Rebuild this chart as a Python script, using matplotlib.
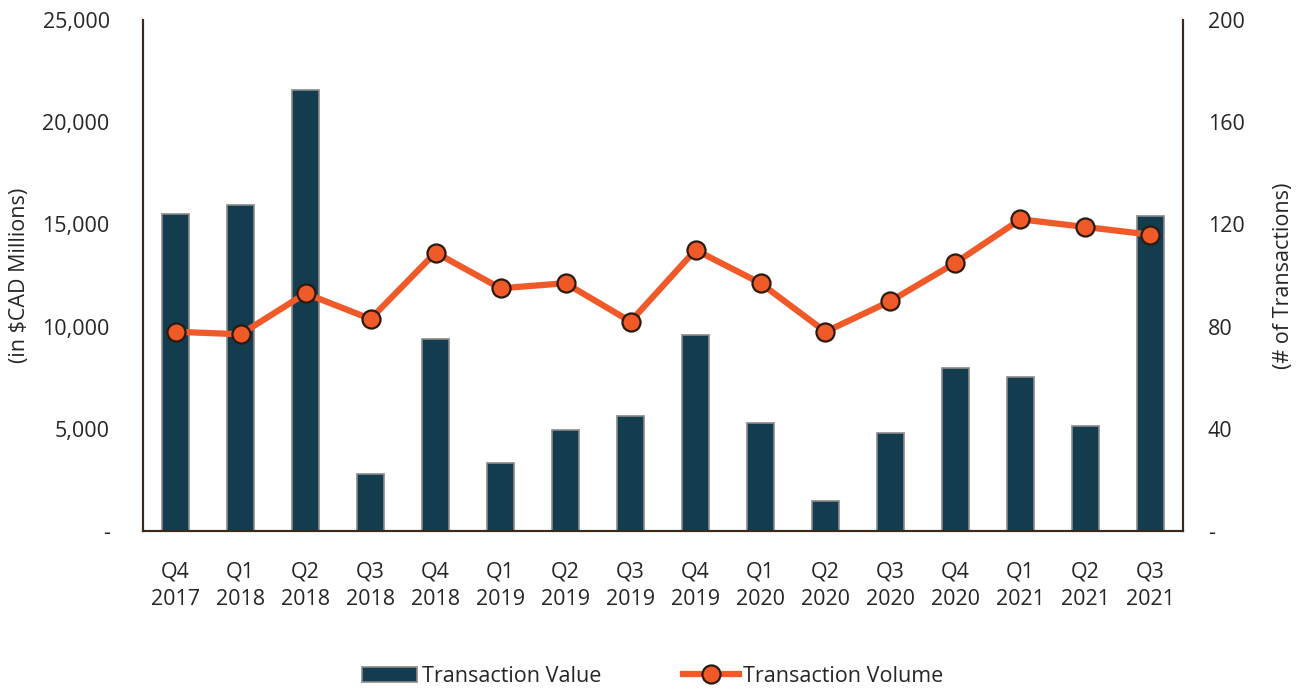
import numpy as np
import matplotlib.pyplot as plt
from matplotlib.ticker import FuncFormatter

quarters = ["Q4\n2017", "Q1\n2018", "Q2\n2018", "Q3\n2018", "Q4\n2018", "Q1\n2019", "Q2\n2019", "Q3\n2019",
            "Q4\n2019", "Q1\n2020", "Q2\n2020", "Q3\n2020", "Q4\n2020", "Q1\n2021", "Q2\n2021", "Q3\n2021"]
txn_value = [15500, 15950, 21580, 2790, 9390, 3330, 4940, 5630, 9590, 5280, 1470, 4790, 7970, 7530, 5140, 15410]
txn_volume = [78, 77, 93, 83, 109, 95, 97, 82, 110, 97, 78, 90, 105, 122, 119, 116]

plt.rcParams['font.family'] = ['Open Sans', 'DejaVu Sans']

bar_col = '#133c4f'
line_col = '#f05a28'
spine_col = '#3b2a1a'
txt_col = '#262626'
fs = 15.5

fig = plt.figure(figsize=(13.05, 6.91), dpi=100)
ax = fig.add_axes([0.1096, 0.2315, 0.7969, 0.7395])
ax2 = ax.twinx()

x = np.arange(len(quarters))
ax.bar(x, txn_value, width=0.42, color=bar_col, edgecolor='#8a8a8a', linewidth=1.2,
       label='Transaction Value', zorder=2)
ax2.plot(x, txn_volume, color=line_col, linewidth=4.5, marker='o', markersize=13,
         markerfacecolor=line_col, markeredgecolor='#2a1a10', markeredgewidth=1.6,
         label='Transaction Volume', zorder=3)

ax.set_xlim(-0.5, len(quarters) - 0.5)
ax.set_ylim(0, 25000)
ax2.set_ylim(0, 200)
ax.set_yticks(np.arange(0, 25001, 5000))
ax2.set_yticks(np.arange(0, 201, 40))

fmt_l = FuncFormatter(lambda v, p: '-' if v == 0 else f'{int(v):,}')
fmt_r = FuncFormatter(lambda v, p: '-' if v == 0 else f'{int(v)}')
ax.yaxis.set_major_formatter(fmt_l)
ax2.yaxis.set_major_formatter(fmt_r)

ax.set_xticks(x)
ax.set_xticklabels(quarters, fontsize=fs, color=txt_col, linespacing=1.4)
ax.tick_params(axis='x', length=0, pad=22)
ax.tick_params(axis='y', length=0, pad=24, labelsize=fs, labelcolor=txt_col)
ax2.tick_params(axis='y', length=0, pad=18, labelsize=fs, labelcolor=txt_col)

for a in (ax, ax2):
    a.spines['top'].set_visible(False)
    for s in ('left', 'right', 'bottom'):
        a.spines[s].set_color(spine_col)
        a.spines[s].set_linewidth(1.5)

ax.set_ylabel('(in $CAD Millions)', fontsize=fs, color=txt_col, labelpad=9)
ax2.set_ylabel('(# of Transactions)', fontsize=fs, color=txt_col, labelpad=20)

h1, l1 = ax.get_legend_handles_labels()
h2, l2 = ax2.get_legend_handles_labels()
fig.legend(h1 + h2, l1 + l2, loc='lower center', bbox_to_anchor=(0.5, -0.022), ncol=2,
           frameon=False, fontsize=fs, columnspacing=3.8, handlelength=2.6, handletextpad=0.2,
           labelcolor=txt_col)

fig.savefig('out.png', dpi=100)
